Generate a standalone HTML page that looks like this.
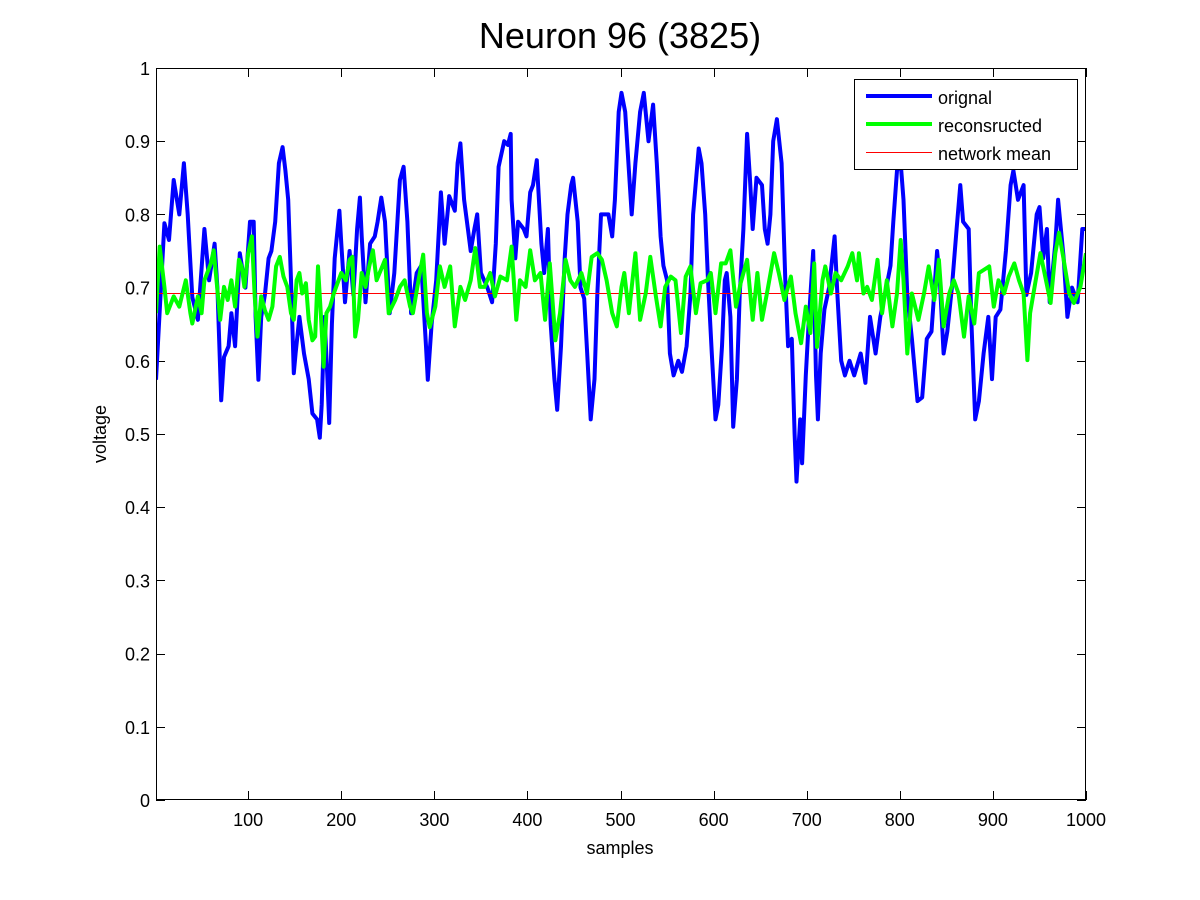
<!DOCTYPE html>
<html>
<head>
<meta charset="utf-8">
<style>
  html,body{margin:0;padding:0;background:#fff;}
  svg{display:block;font-family:"Liberation Sans",Arial,sans-serif;}
</style>
</head>
<body>
<svg id="chart" width="1200" height="900" viewBox="0 0 1200 900" xmlns="http://www.w3.org/2000/svg">
  <rect x="0" y="0" width="1200" height="900" fill="#fff"/>
  <text x="620" y="48" font-size="36" text-anchor="middle" fill="#000">Neuron 96 (3825)</text>
  <defs><clipPath id="plotclip"><rect x="156" y="68" width="930" height="732"/></clipPath></defs>
  <g id="ticks"></g>
  <g id="series" clip-path="url(#plotclip)"></g>
  <rect x="156.5" y="68.5" width="929" height="731" fill="none" stroke="#000" stroke-width="1" shape-rendering="crispEdges"/>
  <text x="0" y="0" font-size="18" text-anchor="middle" transform="translate(106,434) rotate(-90)">voltage</text>
  <text x="620" y="854" font-size="18" text-anchor="middle">samples</text>
  <g>
    <rect x="854.5" y="79.5" width="223" height="90" fill="#fff" stroke="#000" stroke-width="1" shape-rendering="crispEdges"/>
    <line x1="866" y1="96" x2="932" y2="96" stroke="#0000ff" stroke-width="4"/>
    <text x="938" y="104" font-size="18">orignal</text>
    <line x1="866" y1="124" x2="932" y2="124" stroke="#00ff00" stroke-width="4"/>
    <text x="938" y="132" font-size="18">reconsructed</text>
    <line x1="866" y1="152.5" x2="932" y2="152.5" stroke="#ff0000" stroke-width="1"/>
    <text x="938" y="160" font-size="18">network mean</text>
  </g>
</svg>
<script>
const xTicks = [100,200,300,400,500,600,700,800,900,1000];
const yTicks = [0,0.1,0.2,0.3,0.4,0.5,0.6,0.7,0.8,0.9,1];
const yTickLabels = ["0","0.1","0.2","0.3","0.4","0.5","0.6","0.7","0.8","0.9","1"];
const networkMean = 0.692;

const blueX = [1,10,15,20,26,31,35,38,40,46,53,58,64,67,71,74,79,82,86,91,97,102,106,108,111,114,118,122,125,129,133,137,140,143,146,149,151,155,160,165,169,174,177,179,182,185,187,190,193,198,200,204,209,213,217,220,222,226,231,236,239,243,247,252,257,263,267,271,275,281,286,291,293,297,302,307,311,316,322,325,328,332,336,339,343,346,350,357,362,366,369,375,379,382,383,387,390,396,399,403,406,410,411,415,418,422,425,429,432,436,440,443,447,449,454,457,461,464,468,472,475,479,482,487,491,494,498,501,505,509,512,516,521,525,530,535,539,543,546,550,553,557,562,566,571,575,578,584,587,591,594,598,602,605,609,612,614,618,621,625,628,632,636,639,642,646,652,655,658,661,664,668,673,677,680,684,687,689,693,695,699,702,707,710,712,715,719,724,730,733,737,741,746,751,758,763,768,774,779,784,790,793,797,801,804,808,813,819,824,829,834,840,843,847,851,856,861,865,868,874,877,881,885,890,895,899,903,908,914,919,922,927,933,936,941,947,950,954,958,961,967,970,976,980,985,991,996,1000];
const blueY = [0.574,0.788,0.765,0.847,0.80,0.87,0.80,0.733,0.687,0.656,0.78,0.71,0.76,0.70,0.546,0.605,0.62,0.665,0.62,0.747,0.70,0.79,0.79,0.66,0.574,0.66,0.69,0.74,0.75,0.79,0.87,0.892,0.86,0.82,0.71,0.583,0.61,0.66,0.61,0.575,0.528,0.52,0.495,0.54,0.66,0.58,0.515,0.65,0.74,0.805,0.76,0.68,0.75,0.69,0.78,0.823,0.77,0.68,0.76,0.77,0.79,0.823,0.79,0.665,0.72,0.847,0.865,0.79,0.665,0.72,0.73,0.62,0.574,0.65,0.71,0.83,0.76,0.825,0.805,0.87,0.897,0.82,0.78,0.75,0.78,0.80,0.72,0.70,0.68,0.76,0.865,0.90,0.895,0.91,0.82,0.74,0.79,0.78,0.77,0.83,0.84,0.874,0.85,0.76,0.72,0.78,0.65,0.575,0.533,0.62,0.74,0.80,0.84,0.85,0.79,0.70,0.685,0.615,0.52,0.575,0.69,0.80,0.80,0.80,0.77,0.82,0.94,0.966,0.94,0.86,0.80,0.87,0.94,0.966,0.90,0.95,0.87,0.77,0.73,0.71,0.61,0.58,0.60,0.585,0.62,0.69,0.80,0.89,0.87,0.80,0.71,0.61,0.52,0.54,0.62,0.71,0.72,0.66,0.51,0.575,0.69,0.78,0.91,0.85,0.78,0.85,0.84,0.78,0.76,0.80,0.90,0.93,0.87,0.71,0.62,0.63,0.50,0.435,0.52,0.46,0.58,0.65,0.75,0.58,0.52,0.61,0.67,0.70,0.77,0.69,0.60,0.58,0.60,0.58,0.61,0.57,0.66,0.61,0.66,0.69,0.73,0.79,0.86,0.87,0.82,0.69,0.63,0.545,0.55,0.63,0.64,0.75,0.71,0.61,0.64,0.70,0.78,0.84,0.79,0.78,0.65,0.52,0.545,0.61,0.66,0.575,0.66,0.67,0.75,0.84,0.86,0.82,0.84,0.69,0.72,0.80,0.81,0.74,0.78,0.68,0.76,0.82,0.74,0.66,0.70,0.68,0.78,0.78];

const greenX = [1,5,10,13,20,26,33,38,40,46,50,53,60,63,66,70,74,78,82,86,90,93,96,100,104,107,110,114,118,122,126,130,134,138,142,146,149,152,155,158,162,165,169,172,175,178,181,184,188,192,196,200,205,209,212,215,218,222,226,230,234,238,247,251,258,263,268,274,277,283,288,292,295,301,306,311,317,322,328,333,339,344,349,354,360,365,371,378,383,388,392,398,403,408,414,419,424,430,435,441,446,451,458,464,469,475,480,485,491,496,501,504,509,516,521,527,532,538,543,548,554,559,565,570,575,581,586,593,597,602,608,613,618,624,629,636,642,647,652,658,665,670,676,683,688,694,699,704,708,711,717,720,726,731,737,744,749,754,756,761,765,770,776,781,786,792,797,801,804,808,813,820,826,831,837,842,847,853,858,863,869,874,880,885,890,896,901,906,912,917,923,928,933,937,940,946,951,957,962,967,971,976,982,987,994,1000];
const greenY = [0.665,0.756,0.701,0.665,0.688,0.674,0.710,0.665,0.651,0.688,0.665,0.710,0.733,0.751,0.710,0.656,0.701,0.683,0.710,0.674,0.738,0.729,0.701,0.747,0.770,0.688,0.633,0.688,0.669,0.656,0.674,0.729,0.742,0.715,0.701,0.665,0.656,0.710,0.720,0.692,0.706,0.656,0.628,0.633,0.729,0.665,0.592,0.665,0.674,0.692,0.706,0.720,0.710,0.738,0.742,0.633,0.656,0.720,0.701,0.729,0.751,0.710,0.738,0.665,0.683,0.701,0.710,0.674,0.665,0.710,0.745,0.665,0.646,0.674,0.729,0.701,0.729,0.647,0.701,0.683,0.710,0.754,0.701,0.701,0.720,0.688,0.715,0.710,0.756,0.656,0.710,0.701,0.751,0.710,0.720,0.656,0.733,0.628,0.665,0.738,0.710,0.701,0.720,0.692,0.742,0.747,0.738,0.710,0.665,0.647,0.701,0.720,0.665,0.747,0.656,0.692,0.742,0.688,0.647,0.701,0.715,0.710,0.638,0.715,0.729,0.665,0.706,0.710,0.720,0.665,0.733,0.733,0.751,0.674,0.706,0.738,0.656,0.720,0.656,0.697,0.747,0.720,0.683,0.715,0.665,0.624,0.674,0.638,0.733,0.619,0.710,0.729,0.692,0.720,0.710,0.729,0.747,0.710,0.747,0.692,0.701,0.683,0.738,0.665,0.710,0.647,0.692,0.765,0.710,0.610,0.692,0.656,0.692,0.729,0.683,0.738,0.647,0.692,0.710,0.692,0.633,0.688,0.651,0.720,0.724,0.729,0.674,0.710,0.692,0.715,0.733,0.710,0.692,0.601,0.665,0.710,0.747,0.710,0.679,0.747,0.775,0.738,0.692,0.679,0.701,0.747];

const X0 = 156, X1 = 1086, Y0 = 800, Y1 = 68;
function sx(v){ return X0 + (v - 1) / 999 * (X1 - X0); }
function sy(v){ return Y0 - v * (Y0 - Y1); }
const NS = 'http://www.w3.org/2000/svg';
const ticksG = document.getElementById('ticks');
const seriesG = document.getElementById('series');

xTicks.forEach((t) => {
  const x = Math.round(sx(t)) + 0.5;
  const l1 = document.createElementNS(NS, 'line');
  l1.setAttribute('x1', x); l1.setAttribute('x2', x); l1.setAttribute('y1', Y0); l1.setAttribute('y2', Y0 - 9);
  l1.setAttribute('stroke', '#000');
  
  
  ticksG.appendChild(l1);
  const l2 = document.createElementNS(NS, 'line');
  l2.setAttribute('x1', x); l2.setAttribute('x2', x); l2.setAttribute('y1', Y1); l2.setAttribute('y2', Y1 + 9);
  l2.setAttribute('stroke', '#000');
  
  
  ticksG.appendChild(l2);
  const tx = document.createElementNS(NS, 'text');
  tx.setAttribute('x', sx(t)); tx.setAttribute('y', Y0 + 26);
  tx.setAttribute('font-size', '18'); tx.setAttribute('text-anchor', 'middle');
  tx.textContent = String(t);
  
  
  ticksG.appendChild(tx);
});

yTicks.forEach((t, i) => {
  const y = Math.round(sy(t)) + 0.5;
  const l1 = document.createElementNS(NS, 'line');
  l1.setAttribute('x1', X0); l1.setAttribute('x2', X0 + 9); l1.setAttribute('y1', y); l1.setAttribute('y2', y);
  l1.setAttribute('stroke', '#000');
  
  
  ticksG.appendChild(l1);
  const l2 = document.createElementNS(NS, 'line');
  l2.setAttribute('x1', X1); l2.setAttribute('x2', X1 - 9); l2.setAttribute('y1', y); l2.setAttribute('y2', y);
  l2.setAttribute('stroke', '#000');
  
  
  ticksG.appendChild(l2);
  const tx = document.createElementNS(NS, 'text');
  tx.setAttribute('x', X0 - 6); tx.setAttribute('y', sy(t) + 7);
  tx.setAttribute('font-size', '18'); tx.setAttribute('text-anchor', 'end');
  tx.textContent = yTickLabels[i];
  
  
  ticksG.appendChild(tx);
});

function drawLine(xs, ys, color, width, name){
  const p = document.createElementNS(NS, 'polyline');
  p.setAttribute('points', xs.map((x, i) => sx(x).toFixed(1) + ',' + sy(ys[i]).toFixed(1)).join(' '));
  p.setAttribute('fill', 'none');
  p.setAttribute('stroke', color);
  p.setAttribute('stroke-width', width);
  p.setAttribute('stroke-linejoin', 'round');
  
  
  seriesG.appendChild(p);
}
drawLine(blueX, blueY, '#0000ff', 4, 'original-series-line');
const meanY = Math.round(sy(networkMean)) + 0.5;
const mean = document.createElementNS(NS, 'line');
mean.setAttribute('x1', X0); mean.setAttribute('x2', X1);
mean.setAttribute('y1', meanY); mean.setAttribute('y2', meanY);
mean.setAttribute('stroke', '#ff0000');
mean.setAttribute('stroke-width', 1);


seriesG.appendChild(mean);
drawLine(greenX, greenY, '#00ff00', 4, 'reconstructed-series-line');
</script>
</body>
</html>
